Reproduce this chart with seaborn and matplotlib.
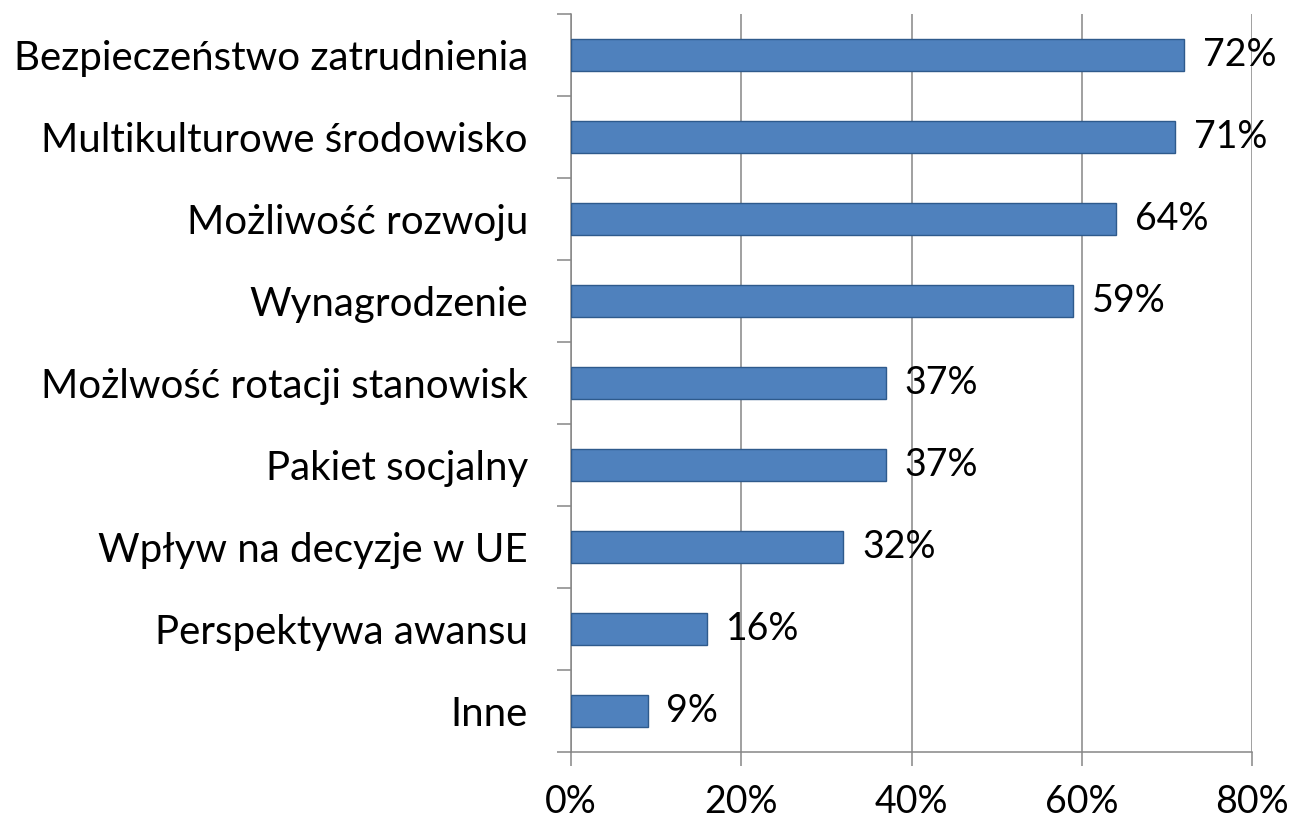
import matplotlib
matplotlib.use("Agg")
import matplotlib.pyplot as plt
import seaborn as sns
import pandas as pd
from matplotlib.ticker import FixedLocator, PercentFormatter

categories = ["Bezpieczeństwo zatrudnienia", "Multikulturowe środowisko", "Możliwość rozwoju",
              "Wynagrodzenie", "Możlwość rotacji stanowisk", "Pakiet socjalny",
              "Wpływ na decyzje w UE", "Perspektywa awansu", "Inne"]
values = [72, 71, 64, 59, 37, 37, 32, 16, 9]

df = pd.DataFrame({"cat": categories, "val": values})

sns.set_theme(style="white")
plt.rcParams['font.family'] = ['Lato', 'DejaVu Sans']

fig = plt.figure(figsize=(12.93, 8.24), dpi=100)
ax = fig.add_axes([571/1293, 1-752/824, (1252-571)/1293, (752-14)/824])

grid_c = "#868686"
sns.barplot(data=df, x="val", y="cat", orient="h", color="#4F81BD", saturation=1,
            edgecolor="#2E5A8C", linewidth=1.0, width=0.4, ax=ax, zorder=3)

ax.set_xlim(0, 80)
ax.set_ylim(8.5, -0.5)
ax.set_xticks([0, 20, 40, 60, 80])
ax.xaxis.set_major_formatter(PercentFormatter(decimals=0))
ax.grid(axis="x", color=grid_c, linewidth=1.1, zorder=0)
ax.set_axisbelow(True)
ax.set_xlabel("")
ax.set_ylabel("")

for s in ["top", "right"]:
    ax.spines[s].set_visible(False)
for s in ["left", "bottom"]:
    ax.spines[s].set_color(grid_c)
    ax.spines[s].set_linewidth(1.1)

ax.tick_params(axis="y", which="major", length=0, pad=31, labelsize=29, colors="black")
ax.yaxis.set_minor_locator(FixedLocator([i - 0.5 for i in range(len(categories) + 1)]))
ax.tick_params(axis="y", which="minor", length=10, width=1.1, color=grid_c, direction="out", left=True)
ax.tick_params(axis="x", which="major", length=10, width=1.1, color=grid_c, direction="out",
               pad=13, labelsize=27, labelcolor="black", bottom=True)

for i, v in enumerate(values):
    ax.text(v + 2.2, i, f"{v}%", va="center", ha="left", fontsize=27, color="black", zorder=4)

fig.savefig("out.png", dpi=100)
